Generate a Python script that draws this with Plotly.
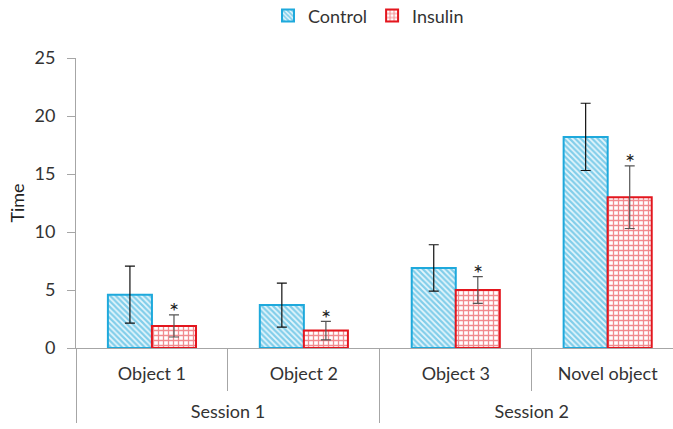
import plotly.graph_objects as go

sessions = ["Session 1", "Session 1", "Session 2", "Session 2"]
objects = ["Object 1", "Object 2", "Object 3", "Novel object"]
control = [4.6, 3.7, 6.9, 18.2]
control_err = [2.45, 1.9, 2.0, 2.9]
insulin = [1.9, 1.5, 5.0, 13.0]
insulin_err = [0.95, 0.8, 1.15, 2.7]
y_ticks = [0, 5, 10, 15, 20, 25]

FONT = "Lato"
# blank second line pushes the outer (session) row further down, as in the reference
inner_labels = [o + "<br> " for o in objects]

fig = go.Figure()
fig.add_trace(go.Bar(
    name="Control", x=[sessions, inner_labels], y=control,
    marker=dict(color="#e6f6fc", line=dict(color="#1ea9dc", width=2),
                pattern=dict(shape="\\", fgcolor="#1ba5d8", bgcolor="#e6f6fc", size=4, solidity=0.55)),
    error_y=dict(type="data", array=control_err, color="#111111", thickness=1.2, width=5),
))
fig.add_trace(go.Bar(
    name="Insulin", x=[sessions, inner_labels], y=insulin,
    marker=dict(color="white", line=dict(color="#e3161e", width=2),
                pattern=dict(shape="+", fgcolor="#e3161e", bgcolor="white", size=5, solidity=0.45)),
    error_y=dict(type="data", array=insulin_err, color="#555555", thickness=1.2, width=5),
))

for i, (v, e) in enumerate(zip(insulin, insulin_err)):
    fig.add_annotation(x=i + 0.145, y=v + e, xref="x", yref="y", text="*",
                       showarrow=False, yshift=4, font=dict(family=FONT, size=24, color="#222"))

fig.update_layout(
    width=673, height=429,
    margin=dict(l=76, r=0, t=58, b=81),
    paper_bgcolor="white", plot_bgcolor="white",
    barmode="group", bargap=0.42, bargroupgap=0,
    font=dict(family=FONT, size=18, color="#333"),
    legend=dict(orientation="h", x=0.49, xanchor="center", y=0.963, yanchor="middle",
                xref="paper", yref="container", font=dict(size=18), itemwidth=30),
    showlegend=True,
)
fig.update_xaxes(
    type="multicategory", range=[-0.5, 3.43], automargin=False,
    showline=True, linecolor="#a6a6a6", linewidth=1,
    tickson="boundaries", ticks="outside", ticklen=42, tickcolor="#a6a6a6",
    showdividers=True, dividercolor="#a6a6a6", dividerwidth=1,
    tickfont=dict(size=18, color="#333"), ticklabelstandoff=9,
)
fig.update_yaxes(
    range=[0, 25], tickvals=y_ticks, showgrid=False, zeroline=False, automargin=False,
    showline=True, linecolor="#a6a6a6", linewidth=1,
    ticks="outside", ticklen=8, tickcolor="#a6a6a6", ticklabelstandoff=8,
    title=dict(text="Time", font=dict(size=18, color="#222"), standoff=5),
    tickfont=dict(size=18, color="#333"),
)
fig.write_html("out.html", config={"displayModeBar": False},
               post_script="document.body.style.margin='0';")
